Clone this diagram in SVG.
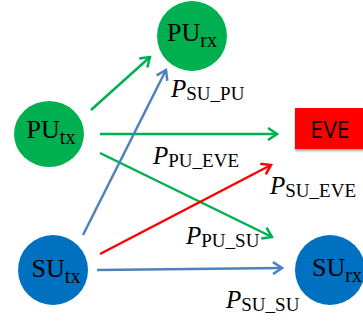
<svg xmlns="http://www.w3.org/2000/svg" width="363" height="324" viewBox="0 0 363 324">
<style>
.lab{font-family:"Liberation Serif",serif;fill:#000}
.nt{font-size:26px}
.ns{font-size:20px}
.pi{font-size:25px;font-style:italic}
.ps{font-size:19px}
.g{stroke:#00B050}
.b{stroke:#4F81BD}
.r{stroke:#FF0000}
.ln{stroke-width:2.5;fill:none}
</style>
<defs>
<marker id="ag" markerWidth="14" markerHeight="14" refX="12" refY="7" orient="auto" markerUnits="userSpaceOnUse"><polyline points="3,1 12,7 3,13" fill="none" stroke="#00B050" stroke-width="2.5"/></marker>
<marker id="ab" markerWidth="14" markerHeight="14" refX="12" refY="7" orient="auto" markerUnits="userSpaceOnUse"><polyline points="3,1 12,7 3,13" fill="none" stroke="#4F81BD" stroke-width="2.5"/></marker>
<marker id="ar" markerWidth="14" markerHeight="14" refX="12" refY="7" orient="auto" markerUnits="userSpaceOnUse"><polyline points="3,1 12,7 3,13" fill="none" stroke="#FF0000" stroke-width="2.5"/></marker>
<filter id="sh" x="-10%" y="-10%" width="130%" height="140%"><feDropShadow dx="0" dy="2" stdDeviation="1.2" flood-color="#000" flood-opacity="0.35"/></filter>
</defs>
<g id="connectors">
<line class="ln g" x1="91" y1="110" x2="150" y2="57" marker-end="url(#ag)"/>
<line class="ln g" x1="100" y1="134" x2="277" y2="134" marker-end="url(#ag)"/>
<line class="ln g" x1="100" y1="153" x2="272" y2="237" marker-end="url(#ag)"/>
<line class="ln b" x1="83" y1="235" x2="166" y2="70" marker-end="url(#ab)"/>
<line class="ln r" x1="100" y1="254" x2="271" y2="165" marker-end="url(#ar)"/>
<line class="ln b" x1="97" y1="270" x2="282" y2="268" marker-end="url(#ab)"/>
</g>
<g id="PU_rx">
<circle cx="192" cy="36" r="35" fill="#00B050"/>
<text class="lab nt" x="192" y="41" text-anchor="middle">PU<tspan class="ns" dy="6">rx</tspan></text>
</g>
<g id="PU_tx">
<ellipse cx="49" cy="134" rx="35" ry="33" fill="#00B050"/>
<text class="lab nt" x="51" y="138" text-anchor="middle">PU<tspan class="ns" dy="6">tx</tspan></text>
</g>
<g id="EVE">
<rect x="295" y="108" width="70" height="41" fill="#FF0000" filter="url(#sh)"/>
<text x="330" y="138" text-anchor="middle" font-family="Open Sans, sans-serif" font-size="23" fill="#000">EVE</text>
</g>
<g id="SU_tx">
<circle cx="53" cy="270" r="35" fill="#0070C0"/>
<text class="lab nt" x="56" y="277" text-anchor="middle">SU<tspan class="ns" dy="6">tx</tspan></text>
</g>
<g id="SU_rx">
<circle cx="330" cy="270" r="35" fill="#0070C0"/>
<text class="lab nt" x="337" y="276" text-anchor="middle">SU<tspan class="ns" dy="6">rx</tspan></text>
</g>
<g id="labels">
<text class="lab pi" x="171" y="97">P<tspan class="ps" font-style="normal" dy="3">SU_PU</tspan></text>
<text class="lab pi" x="153" y="164">P<tspan class="ps" font-style="normal" dy="3">PU_EVE</tspan></text>
<text class="lab pi" x="270" y="194">P<tspan class="ps" font-style="normal" dy="3">SU_EVE</tspan></text>
<text class="lab pi" x="186" y="244">P<tspan class="ps" font-style="normal" dy="3">PU_SU</tspan></text>
<text class="lab pi" x="226" y="308">P<tspan class="ps" font-style="normal" dy="3">SU_SU</tspan></text>
</g>
</svg>
